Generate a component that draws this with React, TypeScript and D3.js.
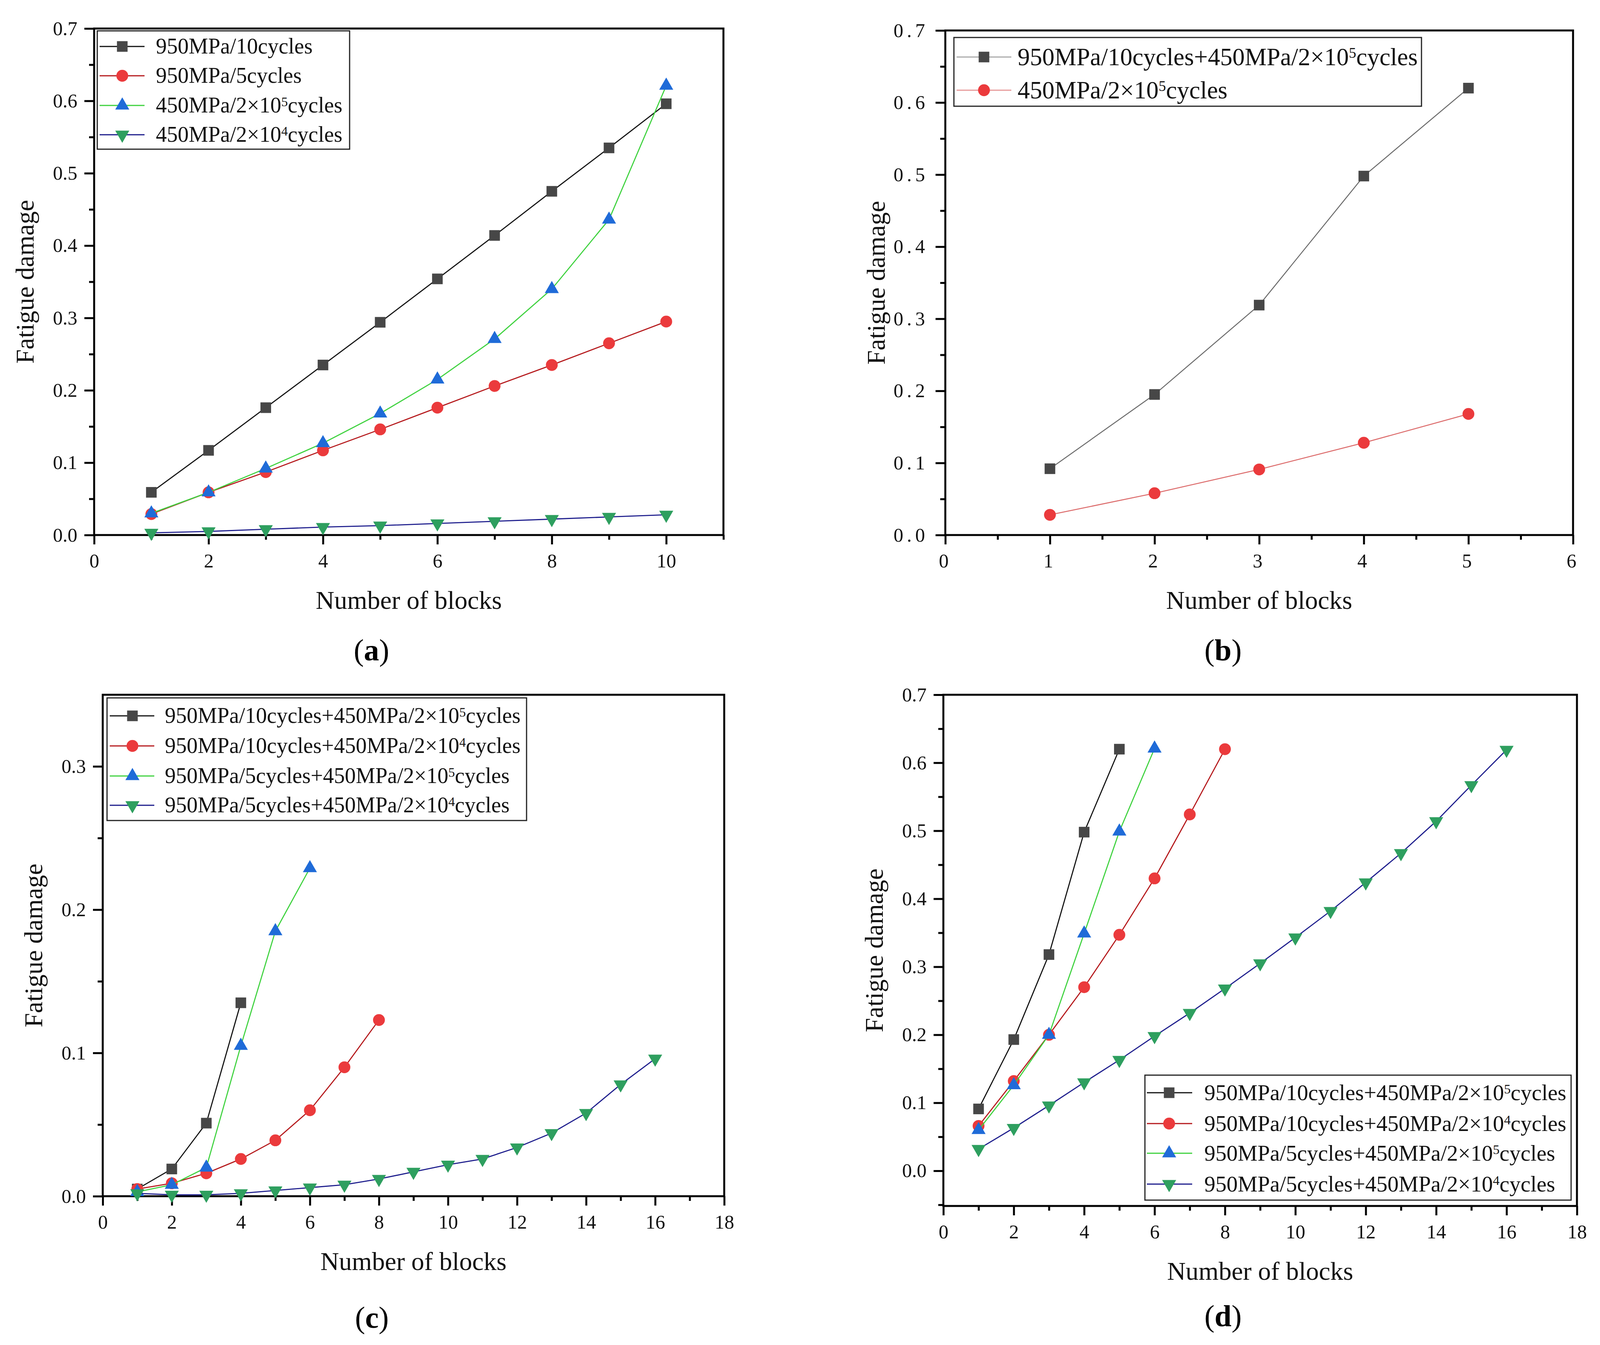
import { useEffect, useRef } from 'react'
import * as d3 from 'd3'

// x values (number of blocks)
const blocks4 = [1, 2, 3, 4]
const blocks5 = [1, 2, 3, 4, 5]
const blocks6 = [1, 2, 3, 4, 5, 6]
const blocks8 = [1, 2, 3, 4, 5, 6, 7, 8]
const blocks10 = [1, 2, 3, 4, 5, 6, 7, 8, 9, 10]
const blocks16 = [1, 2, 3, 4, 5, 6, 7, 8, 9, 10, 11, 12, 13, 14, 15, 16]

// (a) single-level loading
const a950x10 = [0.059, 0.117, 0.176, 0.235, 0.294, 0.354, 0.414, 0.475, 0.535, 0.596]
const a950x5 = [0.029, 0.059, 0.087, 0.117, 0.146, 0.176, 0.206, 0.235, 0.265, 0.295]
const a450x2e5 = [0.030, 0.059, 0.092, 0.127, 0.168, 0.215, 0.271, 0.340, 0.436, 0.621]
const a450x2e4 = [0.003, 0.005, 0.008, 0.011, 0.013, 0.016, 0.019, 0.022, 0.025, 0.028]

// (b)
const b950x10p450x2e5 = [0.092, 0.195, 0.319, 0.498, 0.620]
const b450x2e5 = [0.028, 0.058, 0.091, 0.128, 0.168]

// (c)
const c950x10p2e5 = [0.005, 0.019, 0.051, 0.135]
const c950x10p2e4 = [0.005, 0.009, 0.016, 0.026, 0.039, 0.060, 0.090, 0.123]
const c950x5p2e5 = [0.003, 0.008, 0.020, 0.105, 0.185, 0.229]
const c950x5p2e4 = [0.002, 0.001, 0.001, 0.002, 0.004, 0.006, 0.008, 0.012, 0.017, 0.022, 0.026, 0.034, 0.044, 0.058, 0.078, 0.096]

// (d)
const d950x10p2e5 = [0.091, 0.193, 0.318, 0.498, 0.620]
const d950x10p2e4 = [0.066, 0.132, 0.200, 0.270, 0.347, 0.430, 0.524, 0.620]
const d950x5p2e5 = [0.060, 0.126, 0.200, 0.349, 0.499, 0.621]
const d950x5p2e4 = [0.032, 0.063, 0.096, 0.130, 0.163, 0.198, 0.232, 0.268, 0.305, 0.343, 0.382, 0.424, 0.467, 0.514, 0.567, 0.619]

// legend labels: [text, superscript, text]
const labelsA = [
  ['950MPa/10cycles'],
  ['950MPa/5cycles'],
  ['450MPa/2×10', '5', 'cycles'],
  ['450MPa/2×10', '4', 'cycles'],
]
const labelsB = [
  ['950MPa/10cycles+450MPa/2×10', '5', 'cycles'],
  ['450MPa/2×10', '5', 'cycles'],
]
const labelsCD = [
  ['950MPa/10cycles+450MPa/2×10', '5', 'cycles'],
  ['950MPa/10cycles+450MPa/2×10', '4', 'cycles'],
  ['950MPa/5cycles+450MPa/2×10', '5', 'cycles'],
  ['950MPa/5cycles+450MPa/2×10', '4', 'cycles'],
]

// tick values
const yTicks07 = [0, 0.1, 0.2, 0.3, 0.4, 0.5, 0.6, 0.7]
const yMinor07 = [0.05, 0.15, 0.25, 0.35, 0.45, 0.55, 0.65]
const yTicksC = [0, 0.1, 0.2, 0.3]
const yMinorC = [0.05, 0.15, 0.25]
const yMinorD = [-0.05, 0.05, 0.15, 0.25, 0.35, 0.45, 0.55, 0.65]
const xTicksA = [0, 2, 4, 6, 8, 10]
const xMinorA = [1, 3, 5, 7, 9, 11]
const xTicksB = [0, 1, 2, 3, 4, 5, 6]
const xMinorB = [0.5, 1.5, 2.5, 3.5, 4.5, 5.5]
const xTicks18 = [0, 2, 4, 6, 8, 10, 12, 14, 16, 18]
const xMinor18 = [1, 3, 5, 7, 9, 11, 13, 15, 17]

const SERIF = '"Liberation Serif", "Times New Roman", serif'

type Kind = 'square' | 'circle' | 'up' | 'down'
const marks: Record<Kind, { symbol: d3.SymbolType; fill: string; line: string; size: number; rot: number }> = {
  square: { symbol: d3.symbolSquare, fill: '#474747', line: '#111', size: 740, rot: 0 },
  circle: { symbol: d3.symbolCircle, fill: '#eb3a3c', line: '#b5191c', size: 720, rot: 0 },
  up: { symbol: d3.symbolTriangle, fill: '#1f6bd8', line: '#3ed23e', size: 560, rot: 0 },
  down: { symbol: d3.symbolTriangle, fill: '#2e9f5f', line: '#1c1c8c', size: 560, rot: 180 },
}
const kinds: Kind[] = ['square', 'circle', 'up', 'down']

const panels = [
  {
    id: 'a', box: { left: 241, right: 1852, top: 73, bottom: 1370 },
    xDomain: [0, 11], yDomain: [0, 0.7],
    xTicks: xTicksA, xMinor: xMinorA, yTicks: yTicks07, yMinor: yMinor07,
    series: [[blocks10, a950x10], [blocks10, a950x5], [blocks10, a450x2e5], [blocks10, a450x2e4]],
    labels: labelsA, lines: null as string[] | null,
    legend: { x0: 249, y0: 79, x1: 895, y1: 382, rows: [119, 194, 270, 345], s0: 255, s1: 370, m: 313, t: 399, fs: 56 },
    sub: { x: 951, y: 1664 }, spacing: 0,
  },
  {
    id: 'b', box: { left: 2420, right: 4027, top: 78, bottom: 1370 },
    xDomain: [0, 6], yDomain: [0, 0.7],
    xTicks: xTicksB, xMinor: xMinorB, yTicks: yTicks07, yMinor: yMinor07,
    series: [[blocks5, b950x10p450x2e5], [blocks5, b450x2e5]],
    labels: labelsB, lines: ['#6a6a6a', '#dc6b6b'],
    legend: { x0: 2442, y0: 96, x1: 3639, y1: 272, rows: [146, 231], s0: 2449, s1: 2589, m: 2519, t: 2605, fs: 63 },
    sub: { x: 3131, y: 1664 }, spacing: 9,
  },
  {
    id: 'c', box: { left: 263, right: 1854, top: 1779, bottom: 3063 },
    xDomain: [0, 18], yDomain: [0, 0.35],
    xTicks: xTicks18, xMinor: xMinor18, yTicks: yTicksC, yMinor: yMinorC,
    series: [[blocks4, c950x10p2e5], [blocks8, c950x10p2e4], [blocks6, c950x5p2e5], [blocks16, c950x5p2e4]],
    labels: labelsCD, lines: null,
    legend: { x0: 274, y0: 1787, x1: 1348, y1: 2101, rows: [1833, 1910, 1987, 2062], s0: 281, s1: 395, m: 339, t: 422, fs: 56 },
    sub: { x: 952, y: 3373 }, spacing: 0,
  },
  {
    id: 'd', box: { left: 2415, right: 4037, top: 1779, bottom: 3088 },
    xDomain: [0, 18], yDomain: [-0.0517, 0.7],
    xTicks: xTicks18, xMinor: xMinor18, yTicks: yTicks07, yMinor: yMinorD,
    series: [[blocks5, d950x10p2e5], [blocks8, d950x10p2e4], [blocks6, d950x5p2e5], [blocks16, d950x5p2e4]],
    labels: labelsCD, lines: null,
    legend: { x0: 2931, y0: 2753, x1: 4022, y1: 3073, rows: [2798, 2877, 2953, 3032], s0: 2936, s1: 3052, m: 2993, t: 3083, fs: 57 },
    sub: { x: 3131, y: 3369 }, spacing: 0,
  },
]

function addLabel(sel: d3.Selection<SVGTextElement, unknown, null, undefined>, parts: string[]) {
  sel.append('tspan').text(parts[0])
  if (parts.length > 1) {
    sel.append('tspan').attr('font-size', '0.6em').attr('dy', '-0.5em').text(parts[1])
    sel.append('tspan').attr('dy', '0.3em').text(parts[2])
  }
}

export default function App() {
  const ref = useRef<SVGSVGElement>(null)

  useEffect(() => {
    if (!ref.current) return
    const svg = d3.select(ref.current)
    svg.selectAll('*').remove()
    svg.append('rect').attr('width', 4113).attr('height', 3444).attr('fill', '#fff')

    panels.forEach(p => {
      const { left, right, top, bottom } = p.box
      const x = d3.scaleLinear().domain(p.xDomain).range([left, right])
      const y = d3.scaleLinear().domain(p.yDomain).range([bottom, top])
      const g = svg.append('g')

      // axes
      const styleAxis = (a: d3.Selection<SVGGElement, unknown, null, undefined>) => {
        a.select('.domain').remove()
        a.selectAll('line').attr('stroke', '#000').attr('stroke-width', 5)
        a.selectAll('text')
          .attr('font-family', SERIF).attr('font-size', 50).attr('fill', '#111')
          .attr('letter-spacing', p.spacing)
      }
      g.append('g').attr('transform', `translate(${left},0)`)
        .call(d3.axisLeft(y).tickValues(p.yTicks).tickSize(25).tickPadding(18).tickFormat(d3.format('.1f')))
        .call(styleAxis)
      g.append('g').attr('transform', `translate(${left},0)`)
        .call(d3.axisLeft(y).tickValues(p.yMinor).tickSize(13).tickFormat(() => ''))
        .call(styleAxis)
      g.append('g').attr('transform', `translate(0,${bottom})`)
        .call(d3.axisBottom(x).tickValues(p.xTicks).tickSize(24).tickPadding(23).tickFormat(d3.format('d')))
        .call(styleAxis)
      g.append('g').attr('transform', `translate(0,${bottom})`)
        .call(d3.axisBottom(x).tickValues(p.xMinor).tickSize(12).tickFormat(() => ''))
        .call(styleAxis)

      g.append('rect')
        .attr('x', left).attr('y', top).attr('width', right - left).attr('height', bottom - top)
        .attr('fill', 'none').attr('stroke', '#000').attr('stroke-width', 5)

      // series
      p.series.forEach((s, i) => {
        const [xs, ys] = s
        const m = marks[kinds[i]]
        const pts = xs.map((v, j) => [v, ys[j]] as [number, number])
        const lineColor = p.lines ? p.lines[i] : m.line
        g.append('path')
          .attr('d', d3.line().x(d => x(d[0])).y(d => y(d[1]))(pts) || '')
          .attr('fill', 'none').attr('stroke', lineColor).attr('stroke-width', p.lines ? 2.5 : 2.8)
        g.selectAll(null).data(pts).enter().append('path')
          .attr('d', d3.symbol().type(m.symbol).size(m.size)() || '')
          .attr('transform', d => `translate(${x(d[0])},${y(d[1])}) rotate(${m.rot})`)
          .attr('fill', m.fill)
      })

      // legend
      const L = p.legend
      g.append('rect')
        .attr('x', L.x0).attr('y', L.y0).attr('width', L.x1 - L.x0).attr('height', L.y1 - L.y0)
        .attr('fill', '#fff').attr('stroke', '#222').attr('stroke-width', 3)
      p.labels.forEach((lab, i) => {
        const m = marks[kinds[i]]
        const ly = L.rows[i]
        const lc = p.lines ? (i === 0 ? '#aaaaaa' : '#e79a9a') : m.line
        g.append('line').attr('x1', L.s0).attr('x2', L.s1).attr('y1', ly).attr('y2', ly)
          .attr('stroke', lc).attr('stroke-width', 3)
        g.append('path')
          .attr('d', d3.symbol().type(m.symbol).size(m.size)() || '')
          .attr('transform', `translate(${L.m},${ly}) rotate(${m.rot})`)
          .attr('fill', m.fill)
        const t = g.append('text')
          .attr('x', L.t).attr('y', ly + L.fs * 0.33)
          .attr('font-family', SERIF).attr('font-size', L.fs).attr('fill', '#111')
        addLabel(t, lab)
      })

      // titles
      g.append('text')
        .attr('x', (left + right) / 2).attr('y', bottom + 166)
        .attr('text-anchor', 'middle').attr('dominant-baseline', 'central')
        .attr('font-family', SERIF).attr('font-size', 66).attr('fill', '#111')
        .text('Number of blocks')
      g.append('text')
        .attr('transform', `translate(${left - 178},${(top + bottom) / 2}) rotate(-90)`)
        .attr('text-anchor', 'middle').attr('dominant-baseline', 'central')
        .attr('font-family', SERIF).attr('font-size', 66).attr('fill', '#111')
        .text('Fatigue damage')

      const sub = g.append('text')
        .attr('x', p.sub.x).attr('y', p.sub.y)
        .attr('text-anchor', 'middle').attr('dominant-baseline', 'central')
        .attr('font-family', SERIF).attr('font-size', 78).attr('fill', '#000')
      sub.append('tspan').text('(')
      sub.append('tspan').attr('font-weight', 'bold').text(p.id)
      sub.append('tspan').text(')')
    })
  }, [])

  return (
    <svg
      ref={ref}
      width={4113}
      height={3444}
      viewBox="0 0 4113 3444"
      style={{ position: 'absolute', left: 0, top: 0, display: 'block' }}
    />
  )
}
